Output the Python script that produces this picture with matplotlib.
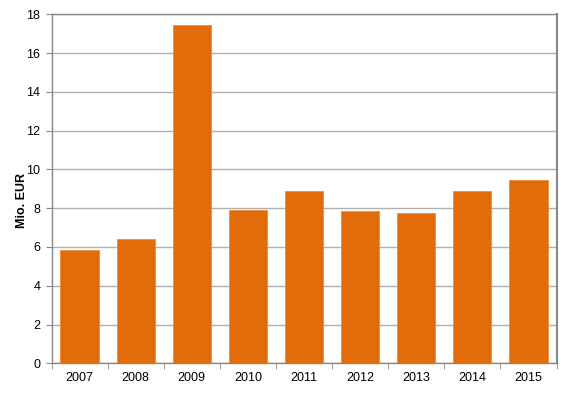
import matplotlib
matplotlib.use("Agg")
import matplotlib.pyplot as plt
import numpy as np

plt.rcParams['font.family'] = ['Liberation Sans', 'DejaVu Sans']

years = ['2007', '2008', '2009', '2010', '2011', '2012', '2013', '2014', '2015']
values = [5.83, 6.39, 17.45, 7.9, 8.87, 7.85, 7.75, 8.87, 9.44]

fig = plt.figure(figsize=(5.72, 3.93), dpi=100)
ax = fig.add_axes([51.5/572, 1 - 363.3/393, 505/572, 349/393])

x = np.arange(len(years))
ax.bar(x, values, width=0.68, color='#E36C0A', edgecolor='#F08A3C', linewidth=0.6, zorder=3)

ax.set_xlim(-0.5, len(years) - 0.5)
ax.set_ylim(0, 18)
ax.set_yticks(np.arange(0, 19, 2))
ax.set_xticks(x)
ax.set_xticklabels(years)
ax.set_xticks(np.arange(-0.5, len(years), 1), minor=True)
ax.tick_params(axis='x', which='major', length=0, pad=6, labelsize=9)
ax.tick_params(axis='x', which='minor', length=4, color='#888888', direction='out')
ax.tick_params(axis='y', length=4, color='#888888', labelsize=9, direction='out', pad=4)

ax.yaxis.grid(True, color='#B0B0B0', linewidth=1, zorder=0)
ax.set_axisbelow(True)
for side in ['left', 'bottom', 'right', 'top']:
    ax.spines[side].set_color('#888888')
    ax.spines[side].set_linewidth(1)
ax.spines['right'].set_linewidth(1.5)

fig.text(22/572, 1 - 200/393, 'Mio. EUR', rotation=90, ha='center', va='center',
         fontsize=9, fontweight='bold')

fig.savefig('out.png', dpi=100)
